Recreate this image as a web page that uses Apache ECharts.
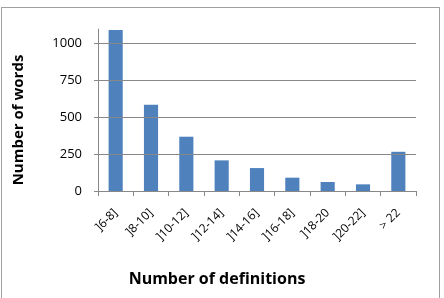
<!DOCTYPE html>
<html>
<head>
<meta charset="utf-8">
<script src="https://cdn.jsdelivr.net/npm/echarts@6/dist/echarts.min.js"></script>
<style>
  html, body { margin: 0; padding: 0; background: #fff; }
  #chart { width: 444px; height: 298px; }
  .frame { position: absolute; left: 1px; top: 7px; width: 439px; height: 295px; border: 1px solid #a0a0a0; box-sizing: border-box; pointer-events: none; }
</style>
</head>
<body>
<div id="chart"></div>
<div class="frame"></div>
<script>
// ranges of definitions per word
const categories = [']6-8]', ']8-10]', ']10-12]', ']12-14]', ']14-16]', ']16-18]', ']18-20', ']20-22]', '> 22'];
const wordCounts = [1088, 583, 367, 207, 155, 90, 61, 45, 265];
const yTicks = [0, 250, 500, 750, 1000];

const chart = echarts.init(document.getElementById('chart'));
const option = {
  animation: false,
  textStyle: { fontFamily: 'Open Sans' },
  grid: { left: 98, right: 28, top: 29, bottom: 107 },
  xAxis: {
    type: 'category',
    data: categories,
    name: 'Number of definitions',
    nameLocation: 'middle',
    nameGap: 80,
    nameTextStyle: { fontSize: 16, fontWeight: 'bold', color: '#000', padding: [0, 80, 0, 0] },
    axisLine: { lineStyle: { color: '#888', width: 1 } },
    axisTick: { show: true, alignWithLabel: false, length: 5, lineStyle: { color: '#888' } },
    axisLabel: { rotate: 45, fontSize: 12, color: '#000', margin: 20, interval: 0 }
  },
  yAxis: {
    type: 'value',
    min: 0,
    max: 1095,
    name: 'Number of words',
    nameLocation: 'middle',
    nameGap: 72,
    nameTextStyle: { fontSize: 15, fontWeight: 'bold', color: '#000', padding: [0, 20, 0, 0] },
    axisLine: { show: true, lineStyle: { color: '#888', width: 1 } },
    axisTick: { show: true, length: 4, lineStyle: { color: '#888' }, customValues: yTicks },
    axisLabel: { fontSize: 13, color: '#000', margin: 16, customValues: yTicks, formatter: v => String(v) },
    splitLine: { show: false }
  },
  series: [
    {
      // carries the horizontal gridlines behind the bars
      type: 'line',
      data: [],
      z: 1,
      markLine: {
        silent: true,
        symbol: 'none',
        label: { show: false },
        lineStyle: { color: '#888', width: 1, type: 'solid' },
        data: yTicks.slice(1).map(v => ({ yAxis: v }))
      }
    },
    {
      type: 'bar',
      data: wordCounts,
      barWidth: '40%',
      z: 2,
      itemStyle: { color: '#4f81bd' }
    }
  ]
};
chart.setOption(option);
</script>
</body>
</html>
